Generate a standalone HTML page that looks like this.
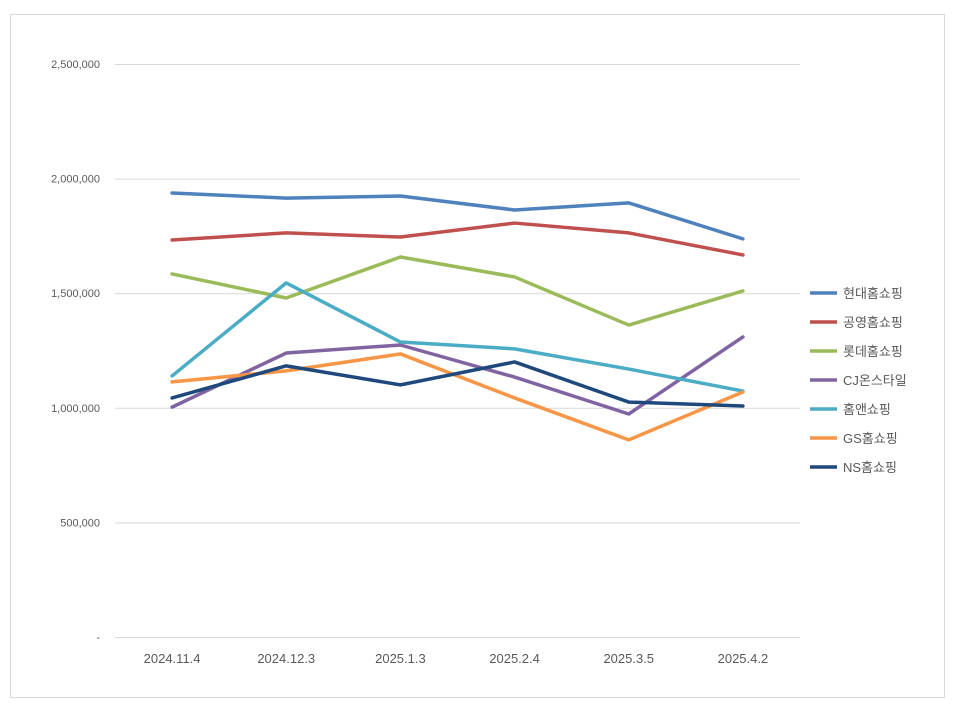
<!DOCTYPE html>
<html><head><meta charset="utf-8"><style>
body{margin:0;background:#fff}
svg{display:block;font-family:"Liberation Sans","Noto Sans CJK KR",sans-serif}
</style></head><body>
<svg id="chart" width="955" height="709">
<rect x="10.5" y="14.5" width="934" height="683" fill="#fff" stroke="#d9d9d9"/>
<g id="grid"></g><g id="series"></g><g id="legend"></g>
</svg>
<script>
const categories=["2024.11.4","2024.12.3","2025.1.3","2025.2.4","2025.3.5","2025.4.2"];
const yTicks=[0,500000,1000000,1500000,2000000,2500000];
const yTickLabels=["-","500,000","1,000,000","1,500,000","2,000,000","2,500,000"];
const seriesNames=["현대홈쇼핑","공영홈쇼핑","롯데홈쇼핑","CJ온스타일","홈앤쇼핑","GS홈쇼핑","NS홈쇼핑"];
const hyundai=[1937000,1915000,1924000,1863000,1894000,1737000];
const gongyoung=[1732000,1763000,1745000,1806000,1763000,1667000];
const lotte=[1584000,1479000,1658000,1571000,1361000,1510000];
const cj=[1003000,1239000,1274000,1134000,973000,1309000];
const homeand=[1139000,1545000,1287000,1257000,1169000,1073000];
const gs=[1113000,1161000,1235000,1043000,860000,1069000];
const ns=[1043000,1183000,1100000,1200000,1025000,1008000];
const seriesValues=[hyundai,gongyoung,lotte,cj,homeand,gs,ns];
const colors=["#4f81bd","#c0504d","#9bbb59","#8064a2","#4bacc6","#f79646","#1f497d"];
const NS="http://www.w3.org/2000/svg";
const x0=115,x1=800,yBase=637,yTop=64,yMax=2500000;
const xs=i=>x0+(x1-x0)/categories.length*(i+0.5);
const ys=v=>yBase-(v/yMax)*(yBase-yTop);
function mk(tag,attrs,parent){const e=document.createElementNS(NS,tag);for(const k in attrs)e.setAttribute(k,attrs[k]);parent.appendChild(e);return e;}
const grid=document.getElementById('grid');
yTicks.forEach((t,i)=>{
 const l=mk('line',{x1:x0,x2:x1,y1:ys(t)+0.5,y2:ys(t)+0.5,stroke:'#d9d9d9'},grid);
 
 
 const tx=mk('text',{x:100,y:ys(t)+4,'text-anchor':'end','font-size':'11',fill:'#595959'},grid);
 tx.textContent=yTickLabels[i];
 
 
});
categories.forEach((c,i)=>{
 const tx=mk('text',{x:xs(i),y:663,'text-anchor':'middle','font-size':'13',fill:'#595959'},grid);
 tx.textContent=c;
 
 
});
const sg=document.getElementById('series');
seriesValues.forEach((vals,s)=>{
 const p=mk('polyline',{points:vals.map((v,i)=>xs(i)+','+ys(v)).join(' '),fill:'none',stroke:colors[s],'stroke-width':'3.5','stroke-linejoin':'round','stroke-linecap':'round'},sg);
 
 
});
const lg=document.getElementById('legend');
seriesNames.forEach((n,s)=>{
 const y=293+s*29;
 const l=mk('line',{x1:810,x2:837,y1:y,y2:y,stroke:colors[s],'stroke-width':'3.5'},lg);
 
 
 const t=mk('text',{x:843,y:y+5,'font-size':'13',fill:'#595959'},lg);
 t.textContent=n;
 
 
});
</script>
</body></html>
